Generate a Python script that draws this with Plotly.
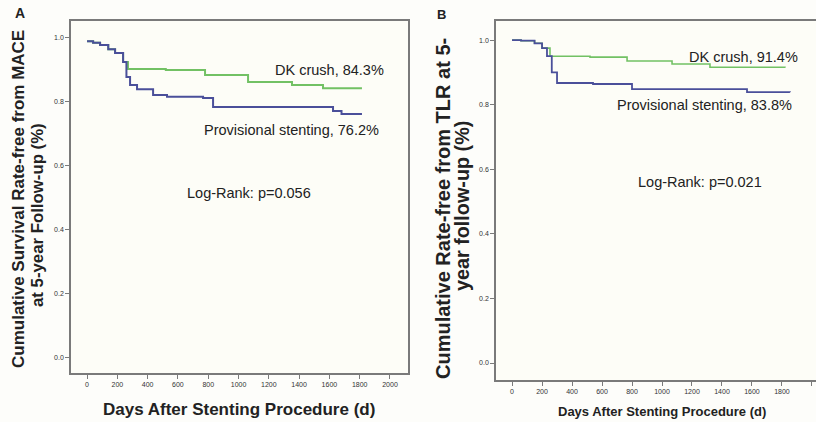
import plotly.graph_objects as go

W, H = 816, 422

# ---- Panel A: MACE-free survival ----
a_dk_days = [0, 40, 86, 140, 185, 238, 270, 520, 779, 1063, 1353, 1558, 1815]
a_dk_surv = [0.99, 0.985, 0.978, 0.965, 0.953, 0.925, 0.903, 0.900, 0.884, 0.8625, 0.853, 0.843, 0.843]
a_ps_days = [0, 40, 86, 140, 185, 238, 260, 284, 330, 436, 528, 766, 832, 1558, 1624, 1680, 1815]
a_ps_surv = [0.99, 0.985, 0.978, 0.965, 0.953, 0.925, 0.878, 0.853, 0.840, 0.822, 0.816, 0.8125, 0.784, 0.784, 0.772, 0.762, 0.762]

# ---- Panel B: TLR-free survival ----
b_dk_days = [0, 60, 150, 200, 253, 520, 767, 1067, 1320, 1820]
b_dk_surv = [1.0, 0.998, 0.99, 0.975, 0.950, 0.947, 0.935, 0.926, 0.916, 0.914]
b_ps_days = [0, 60, 150, 200, 233, 265, 300, 540, 800, 1567, 1853]
b_ps_surv = [1.0, 0.998, 0.99, 0.975, 0.95, 0.90, 0.867, 0.864, 0.848, 0.839, 0.838]

y_ticks = [0.0, 0.2, 0.4, 0.6, 0.8, 1.0]
x_ticks = [0, 200, 400, 600, 800, 1000, 1200, 1400, 1600, 1800, 2000]

GREEN = "#72c164"
BLUE = "#4a4f9a"
AXIS = "#7a7a7a"
FONT = "Liberation Sans"


def px(x):
    return x / W


def py(y):
    return 1 - y / H


fig = go.Figure()
fig.add_trace(go.Scatter(x=a_dk_days, y=a_dk_surv, mode="lines", line=dict(color=GREEN, width=2, shape="hv"),
                         xaxis="x", yaxis="y", showlegend=False))
fig.add_trace(go.Scatter(x=a_ps_days, y=a_ps_surv, mode="lines", line=dict(color=BLUE, width=2, shape="hv"),
                         xaxis="x", yaxis="y", showlegend=False))
fig.add_trace(go.Scatter(x=b_dk_days, y=b_dk_surv, mode="lines", line=dict(color=GREEN, width=1.6, shape="hv"),
                         xaxis="x2", yaxis="y2", showlegend=False))
fig.add_trace(go.Scatter(x=b_ps_days, y=b_ps_surv, mode="lines", line=dict(color=BLUE, width=1.8, shape="hv"),
                         xaxis="x2", yaxis="y2", showlegend=False))

axis_common = dict(showgrid=False, zeroline=False, showline=True, linecolor=AXIS, linewidth=1.5,
                   ticks="outside", ticklen=4, tickcolor=AXIS, tickwidth=1,
                   tickfont=dict(family=FONT, size=7, color="#333"))

fig.update_layout(
    width=W, height=H,
    margin=dict(l=0, r=0, t=0, b=0),
    paper_bgcolor="#fdfdfa",
    plot_bgcolor="#fdfdf7",
    font=dict(family=FONT, color="#222"),
    xaxis=dict(domain=[px(71), px(408)], range=[-106, 2119], tickvals=x_ticks, anchor="y",
               mirror=True, **axis_common),
    yaxis=dict(domain=[py(373), py(21)], range=[-0.047, 1.053], tickvals=y_ticks, tickformat=".1f",
               anchor="x", mirror=True, **axis_common),
    xaxis2=dict(domain=[px(496), 1.0], range=[-107, 2027], tickvals=x_ticks, anchor="y2",
                mirror=True, **axis_common),
    yaxis2=dict(domain=[py(380), py(21)], range=[-0.0526, 1.059], tickvals=y_ticks, tickformat=".1f",
                anchor="x2", mirror=False, **axis_common),
)

ann = []


def add(text, x, y, size, bold=False, angle=0, color="#222"):
    t = f"<b>{text}</b>" if bold else text
    ann.append(dict(text=t, x=px(x), y=py(y), xref="paper", yref="paper", showarrow=False,
                    xanchor="center", yanchor="middle", textangle=angle,
                    font=dict(family=FONT, size=size, color=color)))


# panel letters
add("A", 20, 13, 14, bold=True)
add("B", 442, 15, 13, bold=True)

# y-axis titles
add("Cumulative Survival Rate-free from MACE", 19, 199, 17, bold=True, angle=-90)
add("at 5-year Follow-up (%)", 37, 215, 16.8, bold=True, angle=-90)
add("Cumulative Rate-free from TLR at 5-", 443, 208, 20, bold=True, angle=-90)
add("year follow-up (%)", 462, 206, 19.8, bold=True, angle=-90)

# x-axis titles
add("Days After Stenting Procedure (d)", 239, 409, 17, bold=True)
add("Days After Stenting Procedure (d)", 662, 411, 13, bold=True)

# curve labels
add("DK crush, 84.3%", 329, 70, 14.5)
add("Provisional stenting, 76.2%", 291, 130, 14.5)
add("Log-Rank: p=0.056", 249, 193, 14.5)
add("DK crush, 91.4%", 743, 57, 14.5)
add("Provisional stenting, 83.8%", 704, 105, 14.5)
add("Log-Rank: p=0.021", 700, 182, 14.5)

fig.update_layout(annotations=ann)

fig.write_html("out.html", config={"displayModeBar": False},
               post_script="document.body.style.margin='0px';document.body.style.overflow='hidden';")
